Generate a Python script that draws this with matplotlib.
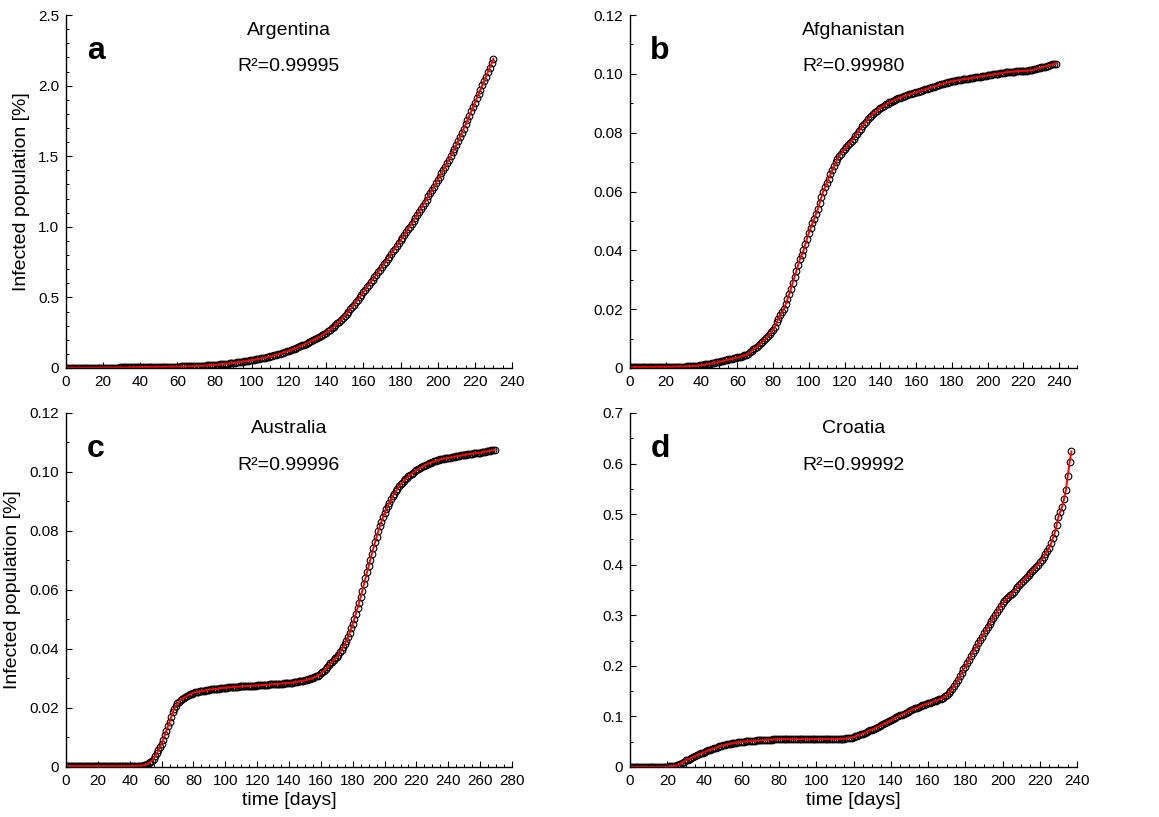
import numpy as np
import matplotlib.pyplot as plt
from matplotlib.ticker import MultipleLocator

plt.rcParams['font.family'] = ['Liberation Sans', 'DejaVu Sans']

# infected population [%], one value per day starting at day 0
argentina = [
    0.002, 0.002, 0.002, 0.002, 0.002, 0.002, 0.002, 0.002, 0.002, 0.002,
    0.002, 0.002, 0.002, 0.002, 0.002, 0.002, 0.002, 0.003, 0.003, 0.003,
    0.003, 0.003, 0.003, 0.003, 0.003, 0.003, 0.003, 0.003, 0.003, 0.004,
    0.004, 0.004, 0.004, 0.004, 0.004, 0.005, 0.005, 0.005, 0.006, 0.006,
    0.006, 0.006, 0.006, 0.007, 0.007, 0.007, 0.007, 0.007, 0.008, 0.008,
    0.008, 0.008, 0.008, 0.009, 0.009, 0.009, 0.009, 0.009, 0.010, 0.010,
    0.010, 0.010, 0.011, 0.011, 0.011, 0.012, 0.012, 0.012, 0.013, 0.013,
    0.014, 0.014, 0.015, 0.016, 0.017, 0.017, 0.018, 0.019, 0.020, 0.021,
    0.022, 0.023, 0.024, 0.026, 0.027, 0.028, 0.030, 0.031, 0.033, 0.034,
    0.036, 0.038, 0.039, 0.041, 0.043, 0.045, 0.047, 0.049, 0.052, 0.054,
    0.056, 0.058, 0.061, 0.063, 0.066, 0.068, 0.071, 0.074, 0.076, 0.079,
    0.082, 0.085, 0.089, 0.093, 0.096, 0.100, 0.104, 0.109, 0.113, 0.118,
    0.122, 0.127, 0.132, 0.137, 0.143, 0.148, 0.154, 0.160, 0.166, 0.172,
    0.178, 0.184, 0.191, 0.198, 0.205, 0.212, 0.219, 0.227, 0.234, 0.242,
    0.250, 0.260, 0.270, 0.281, 0.292, 0.304, 0.316, 0.329, 0.342, 0.356,
    0.370, 0.385, 0.400, 0.416, 0.432, 0.449, 0.466, 0.483, 0.500, 0.517,
    0.535, 0.553, 0.571, 0.589, 0.607, 0.625, 0.643, 0.661, 0.679, 0.697,
    0.715, 0.733, 0.751, 0.770, 0.789, 0.808, 0.827, 0.846, 0.865, 0.884,
    0.903, 0.922, 0.941, 0.961, 0.981, 1.001, 1.021, 1.042, 1.063, 1.084,
    1.105, 1.127, 1.149, 1.171, 1.193, 1.216, 1.239, 1.262, 1.285, 1.307,
    1.330, 1.354, 1.378, 1.402, 1.426, 1.451, 1.476, 1.501, 1.527, 1.553,
    1.580, 1.608, 1.637, 1.666, 1.695, 1.725, 1.755, 1.786, 1.817, 1.848,
    1.880, 1.910, 1.940, 1.970, 2.001, 2.032, 2.063, 2.094, 2.126, 2.158,
    2.190,
]

afghanistan = [
    0.0003, 0.0003, 0.0003, 0.0003, 0.0003, 0.0003, 0.0003, 0.0003, 0.0003, 0.0003,
    0.0003, 0.0003, 0.0003, 0.0003, 0.0003, 0.0004, 0.0004, 0.0004, 0.0004, 0.0004,
    0.0004, 0.0004, 0.0004, 0.0004, 0.0004, 0.0005, 0.0005, 0.0005, 0.0005, 0.0005,
    0.0005, 0.0005, 0.0006, 0.0006, 0.0006, 0.0007, 0.0007, 0.0008, 0.0008, 0.0009,
    0.0010, 0.0011, 0.0012, 0.0013, 0.0014, 0.0015, 0.0016, 0.0018, 0.0019, 0.0020,
    0.0022, 0.0023, 0.0024, 0.0026, 0.0027, 0.0029, 0.0030, 0.0031, 0.0033, 0.0034,
    0.0036, 0.0037, 0.0039, 0.0041, 0.0043, 0.0045, 0.0049, 0.0053, 0.0058, 0.0063,
    0.0068, 0.0073, 0.0078, 0.0084, 0.0089, 0.0095, 0.0101, 0.0108, 0.0115, 0.0122,
    0.0130, 0.0140, 0.0155, 0.0168, 0.0180, 0.0190, 0.0200, 0.0216, 0.0234, 0.0252,
    0.0270, 0.0290, 0.0310, 0.0330, 0.0350, 0.0370, 0.0385, 0.0400, 0.0420, 0.0440,
    0.0460, 0.0476, 0.0492, 0.0508, 0.0524, 0.0540, 0.0560, 0.0580, 0.0600, 0.0615,
    0.0630, 0.0644, 0.0658, 0.0672, 0.0686, 0.0699, 0.0710, 0.0720, 0.0729, 0.0737,
    0.0745, 0.0752, 0.0759, 0.0766, 0.0773, 0.0780, 0.0789, 0.0797, 0.0806, 0.0814,
    0.0822, 0.0830, 0.0837, 0.0845, 0.0852, 0.0858, 0.0864, 0.0869, 0.0875, 0.0880,
    0.0885, 0.0889, 0.0892, 0.0896, 0.0899, 0.0903, 0.0906, 0.0909, 0.0912, 0.0914,
    0.0917, 0.0919, 0.0922, 0.0924, 0.0926, 0.0928, 0.0930, 0.0932, 0.0934, 0.0936,
    0.0938, 0.0940, 0.0942, 0.0943, 0.0945, 0.0947, 0.0949, 0.0951, 0.0953, 0.0955,
    0.0957, 0.0959, 0.0961, 0.0963, 0.0965, 0.0967, 0.0969, 0.0970, 0.0972, 0.0973,
    0.0975, 0.0976, 0.0977, 0.0978, 0.0979, 0.0980, 0.0981, 0.0982, 0.0983, 0.0984,
    0.0985, 0.0986, 0.0987, 0.0988, 0.0989, 0.0990, 0.0991, 0.0992, 0.0993, 0.0994,
    0.0995, 0.0996, 0.0997, 0.0998, 0.0999, 0.1000, 0.1001, 0.1002, 0.1003, 0.1004,
    0.1005, 0.1006, 0.1007, 0.1007, 0.1008, 0.1008, 0.1009, 0.1009, 0.1010, 0.1010,
    0.1010, 0.1011, 0.1011, 0.1012, 0.1012, 0.1013, 0.1015, 0.1017, 0.1019, 0.1020,
    0.1022, 0.1024, 0.1025, 0.1027, 0.1028, 0.1030, 0.1032, 0.1033, 0.1035,
]

australia = [
    0.0003, 0.0003, 0.0003, 0.0003, 0.0003, 0.0003, 0.0003, 0.0003, 0.0003, 0.0003,
    0.0003, 0.0003, 0.0003, 0.0003, 0.0003, 0.0003, 0.0003, 0.0003, 0.0003, 0.0003,
    0.0003, 0.0003, 0.0003, 0.0003, 0.0003, 0.0003, 0.0003, 0.0003, 0.0003, 0.0003,
    0.0003, 0.0003, 0.0003, 0.0003, 0.0003, 0.0003, 0.0003, 0.0003, 0.0003, 0.0003,
    0.0003, 0.0003, 0.0003, 0.0003, 0.0004, 0.0004, 0.0004, 0.0005, 0.0005, 0.0006,
    0.0008, 0.0010, 0.0013, 0.0017, 0.0022, 0.0028, 0.0036, 0.0046, 0.0057, 0.0068,
    0.0079, 0.0093, 0.0108, 0.0123, 0.0138, 0.0153, 0.0169, 0.0185, 0.0198, 0.0208,
    0.0216, 0.0222, 0.0228, 0.0232, 0.0235, 0.0238, 0.0241, 0.0244, 0.0247, 0.0249,
    0.0251, 0.0253, 0.0254, 0.0255, 0.0256, 0.0257, 0.0258, 0.0259, 0.0260, 0.0261,
    0.0262, 0.0263, 0.0263, 0.0264, 0.0264, 0.0265, 0.0266, 0.0267, 0.0268, 0.0268,
    0.0269, 0.0269, 0.0270, 0.0270, 0.0271, 0.0271, 0.0272, 0.0272, 0.0272, 0.0273,
    0.0273, 0.0273, 0.0274, 0.0274, 0.0275, 0.0275, 0.0275, 0.0276, 0.0276, 0.0276,
    0.0277, 0.0277, 0.0277, 0.0278, 0.0278, 0.0278, 0.0279, 0.0279, 0.0280, 0.0280,
    0.0281, 0.0281, 0.0281, 0.0282, 0.0282, 0.0283, 0.0283, 0.0284, 0.0284, 0.0285,
    0.0285, 0.0286, 0.0286, 0.0287, 0.0288, 0.0289, 0.0290, 0.0291, 0.0292, 0.0293,
    0.0294, 0.0295, 0.0297, 0.0298, 0.0300, 0.0302, 0.0304, 0.0307, 0.0310, 0.0313,
    0.0317, 0.0322, 0.0327, 0.0333, 0.0339, 0.0345, 0.0351, 0.0357, 0.0363, 0.0368,
    0.0374, 0.0381, 0.0389, 0.0397, 0.0406, 0.0416, 0.0428, 0.0441, 0.0455, 0.0470,
    0.0486, 0.0503, 0.0520, 0.0538, 0.0557, 0.0577, 0.0598, 0.0619, 0.0640, 0.0661,
    0.0683, 0.0703, 0.0723, 0.0743, 0.0762, 0.0781, 0.0799, 0.0816, 0.0832, 0.0847,
    0.0860, 0.0873, 0.0885, 0.0896, 0.0907, 0.0917, 0.0926, 0.0935, 0.0943, 0.0951,
    0.0958, 0.0964, 0.0970, 0.0976, 0.0981, 0.0986, 0.0990, 0.0994, 0.0998, 0.1002,
    0.1006, 0.1010, 0.1013, 0.1016, 0.1019, 0.1022, 0.1025, 0.1028, 0.1030, 0.1032,
    0.1034, 0.1036, 0.1038, 0.1040, 0.1041, 0.1043, 0.1044, 0.1045, 0.1046, 0.1047,
    0.1048, 0.1049, 0.1050, 0.1051, 0.1052, 0.1053, 0.1054, 0.1055, 0.1056, 0.1057,
    0.1058, 0.1059, 0.1060, 0.1061, 0.1062, 0.1062, 0.1063, 0.1064, 0.1064, 0.1065,
    0.1066, 0.1067, 0.1068, 0.1069, 0.1070, 0.1071, 0.1072, 0.1073, 0.1074, 0.1075,
]

croatia = [
    0.0005, 0.0005, 0.0005, 0.0005, 0.0005, 0.0005, 0.0005, 0.0005, 0.0005, 0.0005,
    0.0005, 0.0005, 0.0005, 0.0005, 0.0005, 0.0005, 0.0005, 0.0005, 0.0005, 0.0005,
    0.0008, 0.0010, 0.0012, 0.0015, 0.0020, 0.0030, 0.0045, 0.0065, 0.0085, 0.0107,
    0.0130, 0.0148, 0.0166, 0.0184, 0.0202, 0.0220, 0.0236, 0.0252, 0.0268, 0.0284,
    0.0300, 0.0314, 0.0328, 0.0342, 0.0356, 0.0370, 0.0382, 0.0394, 0.0406, 0.0418,
    0.0430, 0.0438, 0.0446, 0.0454, 0.0462, 0.0470, 0.0476, 0.0482, 0.0488, 0.0494,
    0.0500, 0.0503, 0.0506, 0.0509, 0.0512, 0.0515, 0.0518, 0.0521, 0.0524, 0.0527,
    0.0530, 0.0532, 0.0534, 0.0536, 0.0538, 0.0540, 0.0542, 0.0544, 0.0546, 0.0548,
    0.0550, 0.0551, 0.0550, 0.0551, 0.0550, 0.0551, 0.0550, 0.0551, 0.0550, 0.0551,
    0.0550, 0.0551, 0.0550, 0.0551, 0.0550, 0.0551, 0.0550, 0.0551, 0.0550, 0.0551,
    0.0550, 0.0551, 0.0550, 0.0551, 0.0550, 0.0551, 0.0551, 0.0552, 0.0552, 0.0552,
    0.0553, 0.0555, 0.0556, 0.0557, 0.0558, 0.0560, 0.0564, 0.0570, 0.0576, 0.0583,
    0.0590, 0.0604, 0.0618, 0.0632, 0.0646, 0.0660, 0.0676, 0.0692, 0.0708, 0.0724,
    0.0740, 0.0758, 0.0776, 0.0794, 0.0812, 0.0830, 0.0848, 0.0866, 0.0884, 0.0902,
    0.0920, 0.0940, 0.0960, 0.0980, 0.1000, 0.1020, 0.1038, 0.1056, 0.1074, 0.1092,
    0.1110, 0.1126, 0.1142, 0.1158, 0.1174, 0.1190, 0.1204, 0.1218, 0.1232, 0.1246,
    0.1260, 0.1272, 0.1284, 0.1296, 0.1308, 0.1320, 0.1336, 0.1354, 0.1374, 0.1396,
    0.1420, 0.1460, 0.1500, 0.1550, 0.1600, 0.1660, 0.1720, 0.1790, 0.1860, 0.1930,
    0.1980, 0.2050, 0.2120, 0.2190, 0.2260, 0.2320, 0.2380, 0.2450, 0.2510, 0.2580,
    0.2640, 0.2700, 0.2760, 0.2820, 0.2880, 0.2940, 0.3000, 0.3060, 0.3120, 0.3180,
    0.3240, 0.3278, 0.3316, 0.3354, 0.3392, 0.3430, 0.3470, 0.3510, 0.3550, 0.3590,
    0.3630, 0.3672, 0.3714, 0.3756, 0.3798, 0.3840, 0.3880, 0.3920, 0.3960, 0.4000,
    0.4045, 0.4095, 0.4150, 0.4210, 0.4270, 0.4340, 0.4420, 0.4520, 0.4630, 0.4780,
    0.4950, 0.5050, 0.5150, 0.5300, 0.5480, 0.5760, 0.6030, 0.6240,
]

countries = ['Argentina', 'Afghanistan', 'Australia', 'Croatia']
letters = ['a', 'b', 'c', 'd']
r2_values = ['0.99995', '0.99980', '0.99996', '0.99992']
series = [argentina, afghanistan, australia, croatia]

xmax = [240, 250, 280, 240]
xticks = [list(range(0, 241, 20)), list(range(0, 241, 20)),
          list(range(0, 281, 20)), list(range(0, 241, 20))]
yticks = [[0, 0.5, 1.0, 1.5, 2.0, 2.5],
          [0, 0.02, 0.04, 0.06, 0.08, 0.10, 0.12],
          [0, 0.02, 0.04, 0.06, 0.08, 0.10, 0.12],
          [0, 0.1, 0.2, 0.3, 0.4, 0.5, 0.6, 0.7]]
ytick_labels = [['0', '0.5', '1.0', '1.5', '2.0', '2.5'],
                ['0', '0.02', '0.04', '0.06', '0.08', '0.10', '0.12'],
                ['0', '0.02', '0.04', '0.06', '0.08', '0.10', '0.12'],
                ['0', '0.1', '0.2', '0.3', '0.4', '0.5', '0.6', '0.7']]
yminor = [0.1, 0.01, 0.01, 0.05]

fig = plt.figure(figsize=(11.59, 8.17), dpi=100)
positions = [[0.0569, 0.5496, 0.3849, 0.4320],
             [0.5436, 0.5496, 0.3857, 0.4320],
             [0.0569, 0.0612, 0.3849, 0.4333],
             [0.5436, 0.0612, 0.3857, 0.4333]]

for i in range(4):
    ax = fig.add_axes(positions[i])
    y = np.array(series[i])
    days = np.arange(len(y))
    ax.plot(days, y, linestyle='none', marker='o', markersize=4.8,
            markerfacecolor='none', markeredgecolor='black', markeredgewidth=0.8)
    ax.plot(days, y, color='red', linewidth=1.4)

    ax.set_xlim(0, xmax[i])
    ax.set_ylim(yticks[i][0], yticks[i][-1])
    ax.set_xticks(xticks[i])
    ax.set_yticks(yticks[i])
    ax.set_yticklabels(ytick_labels[i])
    ax.xaxis.set_minor_locator(MultipleLocator(5))
    ax.yaxis.set_minor_locator(MultipleLocator(yminor[i]))
    ax.tick_params(which='both', direction='in', labelsize=11, colors='black')
    ax.tick_params(which='major', length=4, width=0.8, pad=5)
    ax.tick_params(which='minor', length=2.5, width=0.7)
    ax.spines['top'].set_visible(False)
    ax.spines['right'].set_visible(False)
    for s in ['left', 'bottom']:
        ax.spines[s].set_linewidth(1.0)

    ax.text(0.5, 0.955, countries[i], transform=ax.transAxes, ha='center',
            va='center', fontsize=14)
    ax.text(0.5, 0.853, 'R\u00b2=' + r2_values[i], transform=ax.transAxes,
            ha='center', va='center', fontsize=14)
    ax.text(0.067, 0.897, letters[i], transform=ax.transAxes, ha='center',
            va='center', fontsize=23, fontweight='bold')

    if i % 2 == 0:
        ax.set_ylabel('Infected population [%]', fontsize=14, labelpad=6)
    if i >= 2:
        ax.set_xlabel('time [days]', fontsize=14, labelpad=3)

fig.savefig('out.png', dpi=100)
